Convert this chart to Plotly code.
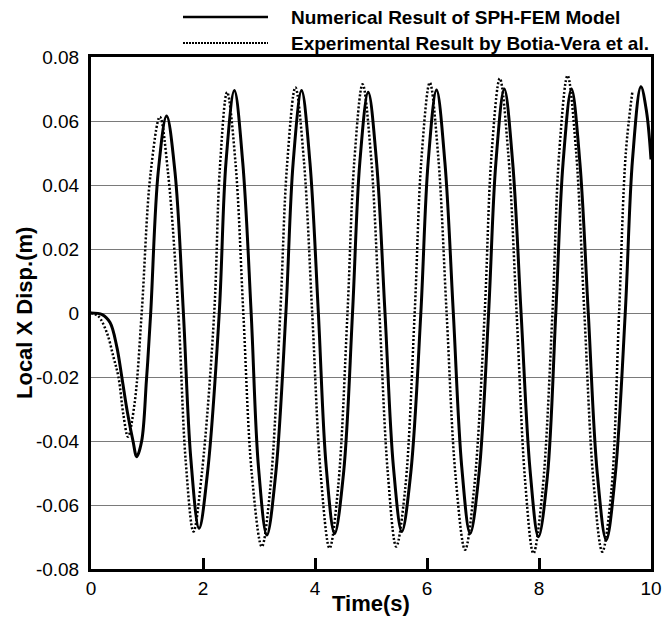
import plotly.graph_objects as go

# ---- data ----
num_t = [0, 0.2, 0.34, 0.46, 0.55, 0.65, 0.75, 0.816, 0.905, 0.99, 1.066, 1.2, 1.35, 1.5, 1.65,
         1.78, 1.93, 2.08, 2.29, 2.41, 2.56, 2.71, 2.86, 2.99, 3.14, 3.30, 3.48, 3.61, 3.76, 3.91,
         4.06, 4.20, 4.35, 4.51, 4.67, 4.80, 4.95, 5.10, 5.25, 5.40, 5.55, 5.71, 5.89, 6.02, 6.17,
         6.32, 6.47, 6.62, 6.77, 6.93, 7.10, 7.23, 7.38, 7.53, 7.68, 7.84, 7.99, 8.15, 8.30, 8.43,
         8.58, 8.73, 8.88, 9.04, 9.20, 9.36, 9.54, 9.67, 9.82, 9.92, 10.0]
num_x = [0, -0.0005, -0.003, -0.0105, -0.02, -0.031, -0.040, -0.0449, -0.040, -0.021, 0, 0.044, 0.0616, 0.044, 0,
         -0.045, -0.0673, -0.050, 0, 0.047, 0.0695, 0.047, 0, -0.048, -0.0694, -0.050, 0, 0.047, 0.0695, 0.047,
         0, -0.048, -0.0689, -0.050, 0, 0.047, 0.069, 0.047, 0, -0.048, -0.0683, -0.050, 0, 0.047, 0.0697,
         0.047, 0, -0.048, -0.0689, -0.050, 0, 0.047, 0.070, 0.047, 0, -0.049, -0.0699, -0.051, 0, 0.047,
         0.070, 0.047, 0, -0.050, -0.0709, -0.051, 0, 0.048, 0.0707, 0.063, 0.048]

exp_t = [0, 0.13, 0.28, 0.40, 0.49, 0.58, 0.66, 0.78, 0.905, 1.06, 1.23, 1.38, 1.56,
         1.69, 1.83, 1.98, 2.20, 2.30, 2.43, 2.58, 2.72, 2.87, 3.05, 3.20, 3.38, 3.50, 3.65,
         3.80, 3.95, 4.10, 4.26, 4.41, 4.58, 4.70, 4.85, 5.00, 5.15, 5.30, 5.45, 5.61, 5.78,
         5.90, 6.05, 6.20, 6.35, 6.51, 6.68, 6.84, 7.03, 7.15, 7.30, 7.45, 7.60, 7.75, 7.90,
         8.06, 8.24, 8.36, 8.51, 8.66, 8.81, 8.97, 9.13, 9.29, 9.43, 9.55, 9.67]
exp_x = [0, -0.001, -0.006, -0.0137, -0.02, -0.032, -0.0387, -0.028, 0, 0.043, 0.0613, 0.043, 0,
         -0.046, -0.0683, -0.050, 0, 0.045, 0.069, 0.047, 0, -0.050, -0.073, -0.055, 0, 0.046, 0.0705,
         0.048, 0, -0.050, -0.0735, -0.055, 0, 0.047, 0.0715, 0.049, 0, -0.050, -0.073, -0.055, 0,
         0.048, 0.072, 0.049, 0, -0.051, -0.074, -0.055, 0, 0.049, 0.0733, 0.050, 0, -0.052, -0.0751,
         -0.056, 0, 0.050, 0.0742, 0.051, 0, -0.052, -0.0746, -0.056, 0, 0.050, 0.0695]

x_ticks = [0, 2, 4, 6, 8, 10]
y_ticks = [0.08, 0.06, 0.04, 0.02, 0, -0.02, -0.04, -0.06, -0.08]
y_labels = ["0.08", "0.06", "0.04", "0.02", "0", "-0.02", "-0.04", "-0.06", "-0.08"]

name_num = "Numerical Result of SPH-FEM Model"
name_exp = "Experimental Result by Botia-Vera et al."

# ---- layout geometry (pixels) ----
W, H = 662, 617
L, R, T, B = 91, 11, 57, 48
PW, PH = W - L - R, H - T - B


def px(xp):
    return (xp - L) / PW


def py(yp):
    return (H - B - yp) / PH


FONT = "Liberation Sans, Arial, sans-serif"

fig = go.Figure()
fig.add_trace(go.Scatter(x=exp_t, y=exp_x, mode="lines", name=name_exp,
                         line=dict(color="black", width=2.5, dash="2px,2px", shape="spline", smoothing=1.0)))
fig.add_trace(go.Scatter(x=num_t, y=num_x, mode="lines", name=name_num,
                         line=dict(color="black", width=3, shape="spline", smoothing=1.0)))

# manual legend
shapes = [
    dict(type="line", xref="paper", yref="paper", x0=px(183), x1=px(268), y0=py(17), y1=py(17),
         line=dict(color="black", width=2.5)),
    dict(type="line", xref="paper", yref="paper", x0=px(183), x1=px(268), y0=py(43), y1=py(43),
         line=dict(color="black", width=2, dash="2px,1px")),
]
annotations = [
    dict(text=name_num, xref="paper", yref="paper", x=px(289), y=py(17), xanchor="left", yanchor="middle",
         showarrow=False, font=dict(family=FONT, size=19, color="black", weight="bold")),
    dict(text=name_exp, xref="paper", yref="paper", x=px(289), y=py(43), xanchor="left", yanchor="middle",
         showarrow=False, font=dict(family=FONT, size=19, color="black", weight="bold")),
    dict(text="Time(s)", xref="paper", yref="paper", x=0.5, y=py(603), xanchor="center", yanchor="middle",
         showarrow=False, font=dict(family=FONT, size=22, color="black", weight="bold")),
    dict(text="Local X Disp.(m)", xref="paper", yref="paper", x=px(24), y=0.5, xanchor="center",
         yanchor="middle", textangle=-90, showarrow=False,
         font=dict(family=FONT, size=22, color="black", weight="bold")),
]

fig.update_layout(
    width=W, height=H,
    margin=dict(l=L, r=R, t=T, b=B, pad=0),
    paper_bgcolor="white", plot_bgcolor="white",
    showlegend=False,
    shapes=shapes, annotations=annotations,
    font=dict(family=FONT, size=19, color="black"),
    xaxis=dict(range=[0, 10], tickvals=x_ticks, ticktext=[str(v) for v in x_ticks],
               ticks="inside", ticklen=11, tickwidth=3, tickcolor="black",
               showline=True, linewidth=3, linecolor="black", mirror=True,
               showgrid=False, zeroline=False, automargin=False,
               tickfont=dict(family=FONT, size=19, color="black")),
    yaxis=dict(range=[-0.08, 0.08], tickvals=y_ticks, ticktext=y_labels,
               ticks="", showline=True, linewidth=3, linecolor="black", mirror=True,
               showgrid=True, gridcolor="#7a7a7a", gridwidth=1, zeroline=False, automargin=False,
               ticklabelstandoff=5,
               tickfont=dict(family=FONT, size=19, color="black")),
)

fig.write_html("out.html", config={"displayModeBar": False},
               post_script="document.body.style.margin='0';document.body.style.padding='0';")
